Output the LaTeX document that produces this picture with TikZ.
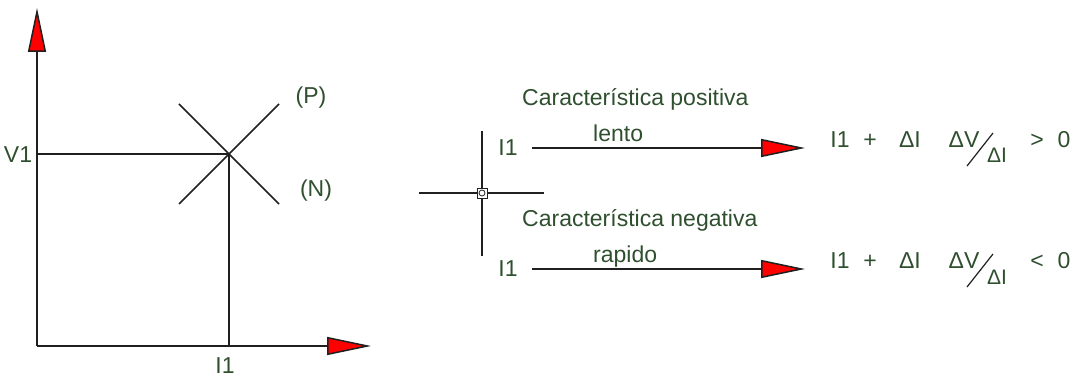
\documentclass[tikz,border=0pt]{standalone}
\usepackage{fontspec}
\setmainfont{Liberation Sans}
\usetikzlibrary{arrows.meta}
\definecolor{cText}{HTML}{2F4F2F}
\definecolor{cLine}{HTML}{202020}
\definecolor{cTip}{HTML}{FF0000}

\begin{document}
\begin{tikzpicture}[
    x=1pt, y=-1pt,
    ln/.style={draw=cLine, line width=1.5pt},
    arr/.style={ln, -{Triangle[length=44pt, width=18pt, fill=cTip]}},
    lbl/.style={text=cText, font=\fontsize{23}{26}\selectfont, inner sep=0pt},
    sub/.style={lbl, font=\fontsize{21}{24}\selectfont},
  ]
  \useasboundingbox (0,0) rectangle (1076,379);

  % V-I plane
  \coordinate (o)    at (37,346);
  \coordinate (ytop) at (37,8);
  \coordinate (xend) at (371,346);
  \coordinate (op)   at (229,154);
  \draw[arr] (o) -- (ytop);
  \draw[arr] (o) -- (xend);
  \draw[ln] (o |- op) -- (op) -- (op |- o);
  \draw[ln] (op) ++(-50,-50) -- ++(100,100);
  \draw[ln] (op) ++(-50,50) -- ++(100,-100);

  \node[lbl] (v1) at (18,155) {V1};
  \node[lbl] (i1) at (225,366) {I1};
  \node[lbl] (p)  at (311,98)  {(P)};
  \node[lbl] (n)  at (316,191) {(N)};

  % Crosshair
  \coordinate (cc) at (482,193);
  \draw[ln] (cc) ++(0,-62) -- ++(0,125);
  \draw[ln] (cc) ++(-63,0) -- ++(125,0);
  \node[draw=cLine, fill=white, line width=0.8pt, minimum size=10pt,
        inner sep=0pt] (snap) at (cc) {};
  \draw[draw=cLine, line width=0.8pt] (snap.center) circle (3pt);

  % Positive / negative characteristic
  \foreach \nm/\y/\kind/\spd/\rel in
      {pos/148/positiva/lento/>, neg/269/negativa/rapido/<} {
    \node[lbl, anchor=base west] (title\nm) at (522,\y-42)
      {Característica \kind};
    \node[lbl] (in\nm) at (508,\y) {I1};
    \coordinate (a\nm) at (532,\y);
    \coordinate (b\nm) at (805,\y);
    \draw[arr] (a\nm) -- (b\nm);
    \node[lbl, anchor=base west] (spd\nm) at (593,\y-6) {\spd};

    \node[lbl, anchor=base] (fi\nm)  at (840,\y)  {I1};
    \node[lbl, anchor=base] (fp\nm)  at (870,\y)  {+};
    \node[lbl, anchor=base] (fd\nm)  at (910,\y)  {ΔI};
    \node[lbl, anchor=base] (fv\nm)  at (964,\y)  {ΔV};
    \node[sub, anchor=base] (fs\nm)  at (997,\y+15) {ΔI};
    \coordinate (sl\nm) at (967,\y+18);
    \coordinate (su\nm) at (993,\y-15);
    \draw[draw=cLine, line width=1.2pt] (sl\nm) -- (su\nm);
    \node[lbl, anchor=base] (fr\nm)  at (1037,\y) {\rel};
    \node[lbl, anchor=base] (fz\nm)  at (1064,\y) {0};
  }
\end{tikzpicture}
\end{document}
